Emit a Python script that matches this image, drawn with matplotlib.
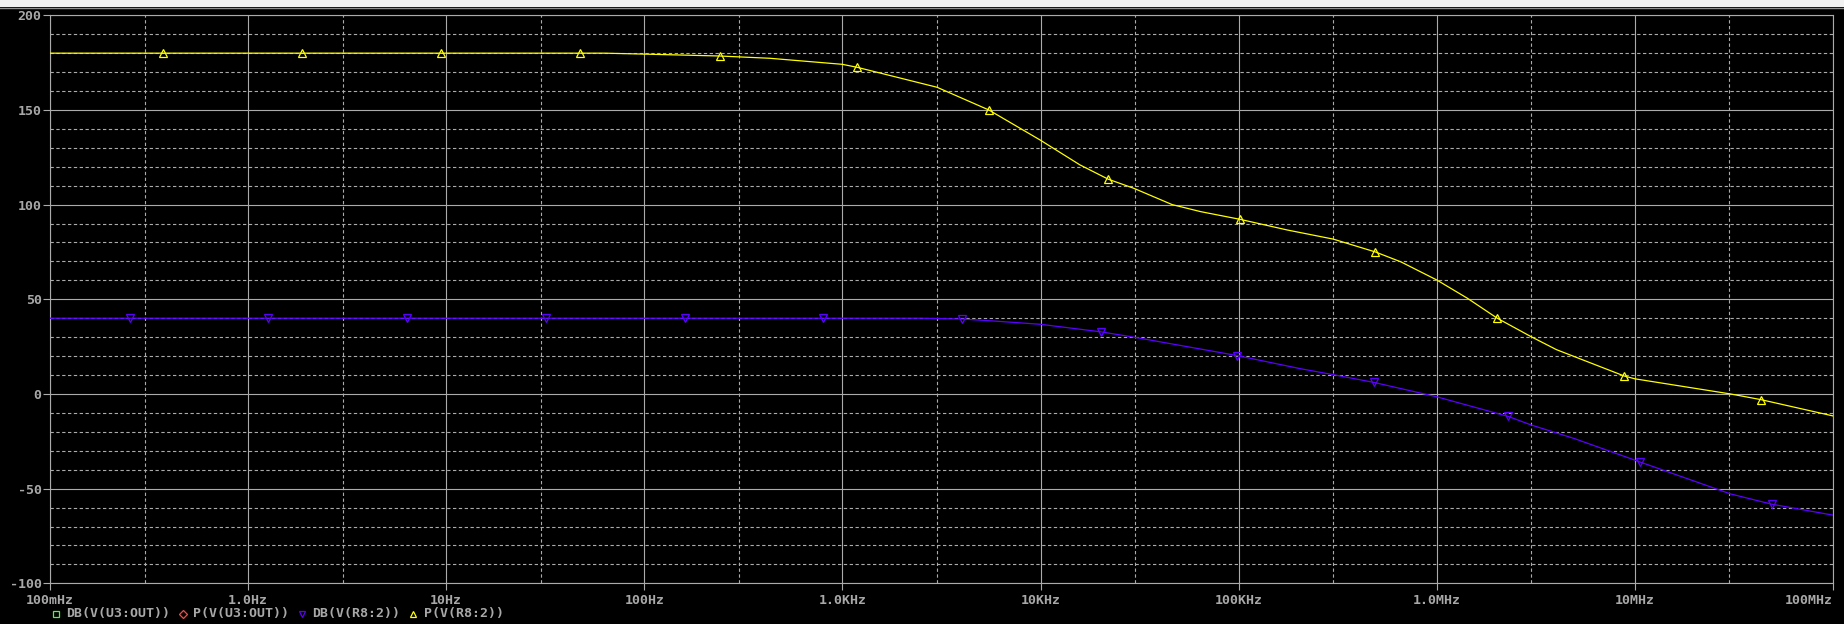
import matplotlib
matplotlib.use('Agg')
import matplotlib.pyplot as plt
from matplotlib.lines import Line2D
from matplotlib.patches import Rectangle
from matplotlib.ticker import FixedLocator, NullFormatter

# P(V(R8:2)) - phase curve
phase_freq = [0.1, 63, 100, 240, 430, 1000, 1190, 3000, 5480, 10000, 15800,
              22000, 29600, 46200, 64300, 102000, 176000, 300000, 490000,
              658000, 1.0e6, 1.43e6, 2.02e6, 3.0e6, 4.02e6, 8.83e6, 1.0e7,
              3.04e7, 4.33e7, 1.0e8]
phase_deg = [180, 180, 179.5, 178.5, 177.3, 174.1, 172.5, 162, 150, 134, 121,
             113.4, 108.6, 100, 96.3, 92.2, 86.6, 81.8, 75,
             69.8, 60.2, 50.5, 40, 30.2, 23.4, 9.5, 8.0,
             0, -3, -11.6]
phase_mk_freq = [0.373, 1.87, 9.42, 47.3, 240, 1190, 5480, 22000, 102000,
                 490000, 2.02e6, 8.83e6, 4.33e7]
phase_mk_deg = [180, 180, 180, 180, 178.5, 172.5, 150, 113.4, 92.2,
                75, 40, 9.5, -3]

# DB(V(R8:2)) - gain curve
gain_freq = [0.1, 2500, 3990, 5680, 10000, 20200, 30000, 98000, 206000,
             300000, 482000, 1.0e6, 2.3e6, 3.0e6, 4.93e6, 1.06e7, 3.04e7,
             4.9e7, 1.0e8]
gain_db = [40, 40, 39.6, 38.6, 36.8, 32.8, 29.9, 20.3, 13.3,
           10.2, 6.1, -1.5, -11.9, -16.4, -23.5, -35.9, -52.8,
           -58.2, -64]
gain_mk_freq = [0.252, 1.26, 6.34, 31.8, 160, 802, 3990, 20200, 98000,
                482000, 2.3e6, 1.06e7, 4.9e7]
gain_mk_db = [40, 40, 40, 40, 40, 40, 39.6, 32.8, 20.3,
              6.1, -11.9, -35.9, -58.2]

x_ticks = [0.1, 1, 10, 100, 1e3, 1e4, 1e5, 1e6, 1e7, 1e8]
x_labels = ['100mHz', '1.0Hz', '10Hz', '100Hz', '1.0KHz', '10KHz',
            '100KHz', '1.0MHz', '10MHz', '100MHz']
y_ticks = [-100, -50, 0, 50, 100, 150, 200]
y_labels = ['-100', '-50', '0', '50', '100', '150', '200']

legend_labels = ['DB(V(U3:OUT))', 'P(V(U3:OUT))', 'DB(V(R8:2))', 'P(V(R8:2))']
legend_markers = ['s', 'D', 'v', '^']
legend_colors = ['#40ff40', '#ff4848', '#5a00ff', '#ffff00']

GRID = '#ababab'
TEXT = '#a8a8a8'
YEL = '#ffff00'
BLU = '#5a00ff'

W, H = 1844, 624
plt.rcParams['lines.scale_dashes'] = False
plt.rcParams['font.family'] = 'DejaVu Sans Mono'
plt.rcParams['font.weight'] = 'bold'

fig = plt.figure(figsize=(W / 100, H / 100), dpi=100, facecolor='black')
ax = fig.add_axes([50 / W, 1 - 583.3 / H, (1833 - 50) / W, (583.3 - 15.3) / H])
ax.set_facecolor('black')
ax.set_xscale('log')
ax.set_xlim(0.1, 1e8)
ax.set_ylim(-100, 200)

ax.set_xticks(x_ticks)
ax.set_xticklabels(x_labels)
ax.xaxis.set_minor_locator(FixedLocator([3 * t for t in x_ticks[:-1]]))
ax.xaxis.set_minor_formatter(NullFormatter())
ax.set_yticks(y_ticks)
ax.set_yticklabels(y_labels)
ax.yaxis.set_minor_locator(FixedLocator([v for v in range(-100, 201, 10) if v % 50]))

ax.tick_params(which='major', length=5, width=0.8, color=GRID, labelcolor=TEXT,
               labelsize=9.5)
ax.tick_params(axis='x', which='major', pad=3)
ax.tick_params(axis='y', which='major', pad=1)
ax.tick_params(which='minor', length=0)
ax.get_xticklabels()[-1].set_horizontalalignment('right')

ax.grid(which='major', color=GRID, lw=0.8, ls='-')
ax.grid(which='minor', color=GRID, lw=0.8, ls=(0, (2.4, 1.8)))
for s in ax.spines.values():
    s.set_color(GRID)
    s.set_linewidth(0.8)

ax.plot(phase_freq, phase_deg, color=YEL, lw=0.9, zorder=3)
ax.plot(phase_mk_freq, phase_mk_deg, ls='none', marker='^', ms=5.5,
        mfc='none', mec=YEL, mew=0.9, zorder=4)
ax.plot(gain_freq, gain_db, color=BLU, lw=0.9, zorder=3)
ax.plot(gain_mk_freq, gain_mk_db, ls='none', marker='v', ms=5.5,
        mfc='none', mec=BLU, mew=0.9, zorder=4)

# window strip at the top
fig.patches.append(Rectangle((0, 1 - 7 / H), 1, 7 / H, transform=fig.transFigure,
                             facecolor='#f2f2f2', edgecolor='none'))
fig.add_artist(Line2D([0, 1], [1 - 7.5 / H] * 2, transform=fig.transFigure,
                      color='#909090', lw=1))

# legend row under the axis
x = 55.5
ly = 1 - 614 / H
for lab, mk, col in zip(legend_labels, legend_markers, legend_colors):
    fig.add_artist(Line2D([x / W], [ly], transform=fig.transFigure, ls='none',
                          marker=mk, ms=5 if mk != 'D' else 4.5, mfc='none',
                          mec=col, mew=0.9))
    fig.text((x + 10.5) / W, ly, lab, color=TEXT, fontsize=9.5,
             ha='left', va='center')
    x = x + 10.5 + len(lab) * 7.9 + 14

fig.savefig('out.png', dpi=100, facecolor='black')
